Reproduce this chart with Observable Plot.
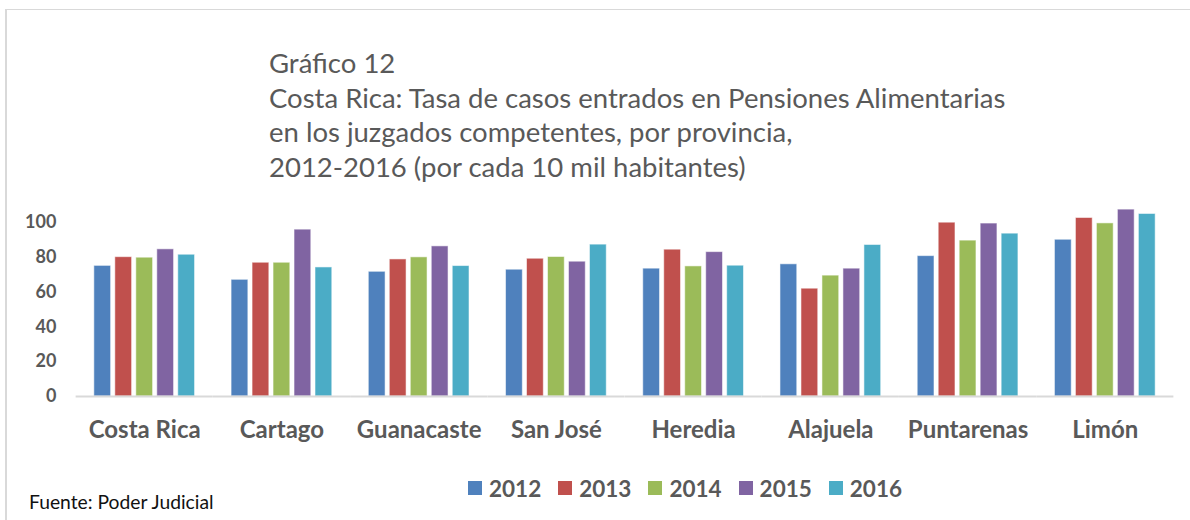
<!DOCTYPE html>
<html>
<head>
<meta charset="utf-8">
<script src="https://cdn.jsdelivr.net/npm/d3@7"></script>
<script src="https://cdn.jsdelivr.net/npm/@observablehq/plot@0.6"></script>
<style>
  html, body { margin: 0; padding: 0; background: #fff; }
  #wrap { position: relative; width: 1190px; height: 520px; overflow: hidden; font-family: Lato, "Open Sans", sans-serif; }
  #frame { position: absolute; left: 5px; top: 9px; width: 1200px; height: 600px; border-top: 1px solid #D9D9D9; border-left: 2px solid #D9D9D9; }
  #title { position: absolute; left: 269px; top: 46.4px; color: #595959; font-size: 27.5px; line-height: 34.5px; white-space: nowrap; }
  #chart { position: absolute; left: 0; top: 183px; }
  #legend { position: absolute; left: 468px; top: 477px; height: 22px; display: flex; align-items: center; column-gap: 17px; }
  .item { display: flex; align-items: center; column-gap: 7px; color: #595959; font-weight: bold; font-size: 22.5px; }
  .sw { width: 14px; height: 14px; display: inline-block; }
  #source { position: absolute; left: 29px; top: 491.5px; font-size: 19.3px; line-height: 20px; color: #111; white-space: nowrap; }
</style>
</head>
<body>
<div id="wrap">
  <div id="frame"></div>
  <div id="title"></div>
  <div id="chart"></div>
  <div id="legend"></div>
  <div id="source"></div>
</div>
<script>
const titleLines = [
  "Gráfico 12",
  "Costa Rica: Tasa de casos entrados en Pensiones Alimentarias",
  "en los juzgados competentes, por provincia,",
  "2012-2016 (por cada 10 mil habitantes)"
];
const sourceText = "Fuente: Poder Judicial";

const provinces = ["Costa Rica", "Cartago", "Guanacaste", "San José", "Heredia", "Alajuela", "Puntarenas", "Limón"];
const years = ["2012", "2013", "2014", "2015", "2016"];
const v2012 = [75.0, 67.0, 71.6, 72.8, 73.4, 75.9, 80.6, 90.0];
const v2013 = [80.0, 76.8, 78.7, 79.1, 84.3, 61.9, 99.8, 102.5];
const v2014 = [79.7, 76.8, 79.9, 80.1, 74.7, 69.4, 89.5, 99.4];
const v2015 = [84.5, 95.8, 86.2, 77.4, 82.9, 73.4, 99.3, 107.3];
const v2016 = [81.4, 74.1, 74.9, 87.2, 75.1, 87.0, 93.5, 104.8];
const colors = ["#4F81BD", "#C0504D", "#9BBB59", "#8064A2", "#4BACC6"];
const yTicks = [0, 20, 40, 60, 80, 100];

const series = [v2012, v2013, v2014, v2015, v2016];
const data = [];
provinces.forEach((p, i) => {
  years.forEach((y, j) => data.push({province: p, year: y, value: series[j][i]}));
});

// Title
const t = document.getElementById("title");
titleLines.forEach(l => { const d = document.createElement("div"); d.textContent = l; t.appendChild(d); });
document.getElementById("source").textContent = sourceText;

// Legend
const lg = document.getElementById("legend");
years.forEach((y, i) => {
  const it = document.createElement("div"); it.className = "item";
  const sw = document.createElement("span"); sw.className = "sw"; sw.style.background = colors[i];
  const tx = document.createElement("span"); tx.textContent = y;
  it.appendChild(sw); it.appendChild(tx); lg.appendChild(it);
});

const chart = Plot.plot({
  width: 1190,
  height: 270,
  marginLeft: 76,
  marginRight: 17,
  marginTop: 4,
  marginBottom: 57,
  style: {fontFamily: "Lato, sans-serif", background: "transparent"},
  fx: {domain: provinces, paddingInner: 0.266, paddingOuter: 0.13, round: false, label: null},
  x: {domain: years, paddingInner: 0.2, paddingOuter: 0, round: false, axis: null},
  y: {domain: [0, 120], label: null},
  color: {domain: years, range: colors},
  marks: [
    Plot.barY(data, {fx: "province", x: "year", y: "value", fill: "year", stroke: "#ffffff", strokeOpacity: 0.55, strokeWidth: 1}),
    Plot.ruleY([0], {stroke: "#D9D9D9", strokeWidth: 2, insetLeft: -18.2, insetRight: -18.2}),
    Plot.axisY(yTicks, {tickSize: 0, tickPadding: 38, fontSize: 18, fontWeight: "bold", fill: "#595959", label: null}),
    Plot.axisFx({anchor: "bottom", tickSize: 0, tickPadding: 24, fontSize: 24, fontWeight: "bold", fill: "#595959", label: null})
  ]
});
document.getElementById("chart").appendChild(chart);
</script>
</body>
</html>
